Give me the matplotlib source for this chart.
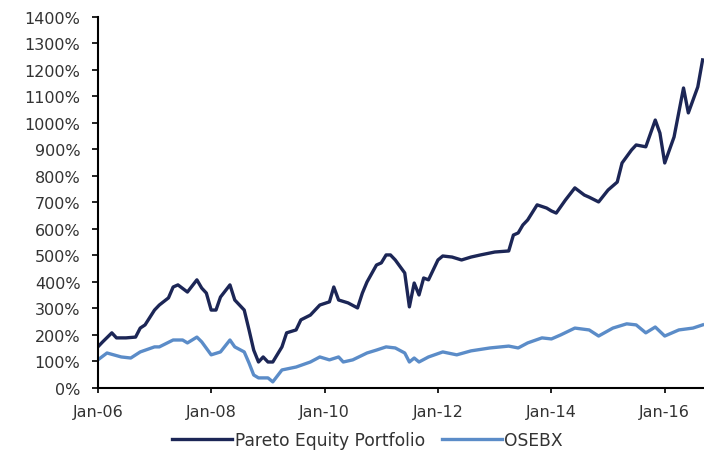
import pandas as pd
import matplotlib.pyplot as plt
import matplotlib.dates as mdates
from matplotlib.ticker import FuncFormatter, MultipleLocator

# values (cumulative return, %)
pareto_dates = ["2006-01", "2006-02", "2006-04", "2006-05", "2006-07", "2006-09", "2006-10",
                "2006-11", "2007-01", "2007-02", "2007-04", "2007-05", "2007-06", "2007-08",
                "2007-10", "2007-11", "2007-12", "2008-01", "2008-02", "2008-03", "2008-05",
                "2008-06", "2008-08", "2008-09", "2008-10", "2008-11", "2008-12", "2009-01",
                "2009-02", "2009-04", "2009-05", "2009-07", "2009-08", "2009-10", "2009-12",
                "2010-02", "2010-03", "2010-04", "2010-06", "2010-08", "2010-09", "2010-10",
                "2010-12", "2011-01", "2011-02", "2011-03", "2011-04", "2011-06", "2011-07",
                "2011-08", "2011-09", "2011-10", "2011-11", "2012-01", "2012-02", "2012-04",
                "2012-06", "2012-08", "2012-10", "2013-01", "2013-04", "2013-05", "2013-06",
                "2013-07", "2013-08", "2013-10", "2013-12", "2014-01", "2014-02", "2014-04",
                "2014-06", "2014-08", "2014-09", "2014-11", "2015-01", "2015-03", "2015-04",
                "2015-06", "2015-07", "2015-09", "2015-11", "2015-12", "2016-01", "2016-03",
                "2016-05", "2016-06", "2016-08", "2016-09"]
pareto_vals = [155, 174, 208, 189, 189, 192, 226,
               238, 294, 313, 340, 381, 389, 362,
               408, 377, 358, 294, 294, 343, 389,
               332, 294, 219, 143, 98, 117, 98,
               98, 155, 208, 219, 257, 275, 313,
               325, 381, 332, 321, 302, 358, 400,
               464, 472, 502, 502, 483, 434, 306,
               396, 351, 415, 408, 483, 498, 494,
               483, 494, 502, 513, 517, 577, 585,
               615, 634, 691, 679, 668, 660, 709,
               755, 728, 720, 702, 747, 777, 849,
               898, 917, 910, 1011, 962, 849, 947,
               1132, 1038, 1136, 1238]

osebx_dates = ["2006-01", "2006-03", "2006-06", "2006-08", "2006-10", "2007-01", "2007-02",
               "2007-05", "2007-07", "2007-08", "2007-10", "2007-11", "2008-01", "2008-03",
               "2008-05", "2008-06", "2008-08", "2008-09", "2008-10", "2008-11", "2009-01",
               "2009-02", "2009-04", "2009-07", "2009-10", "2009-12", "2010-02", "2010-04",
               "2010-05", "2010-07", "2010-10", "2010-12", "2011-02", "2011-04", "2011-06",
               "2011-07", "2011-08", "2011-09", "2011-11", "2012-02", "2012-05", "2012-08",
               "2012-12", "2013-04", "2013-06", "2013-08", "2013-11", "2014-01", "2014-03",
               "2014-06", "2014-09", "2014-11", "2015-02", "2015-05", "2015-07", "2015-09",
               "2015-11", "2016-01", "2016-04", "2016-07", "2016-09"]
osebx_vals = [106, 132, 117, 113, 136, 155, 155,
              181, 181, 170, 192, 174, 125, 136,
              181, 155, 136, 94, 49, 38, 38,
              23, 68, 79, 98, 117, 106, 117,
              98, 106, 132, 143, 155, 151, 132,
              98, 113, 98, 117, 136, 125, 140,
              151, 158, 151, 170, 189, 185, 200,
              226, 219, 196, 226, 242, 238, 208,
              230, 196, 219, 226, 238]

pareto_x = pd.to_datetime(pareto_dates)
osebx_x = pd.to_datetime(osebx_dates)

plt.rcParams['font.family'] = ['DejaVu Sans']

fig = plt.figure(figsize=(7.04, 4.56), dpi=100)
ax = fig.add_axes([0.139, 0.147, 0.861, 0.8136])

ax.plot(pareto_x, pareto_vals, color="#1c2656", lw=2.4, label="Pareto Equity Portfolio")
ax.plot(osebx_x, osebx_vals, color="#5b8cc8", lw=2.4, label="OSEBX")

ax.set_ylim(0, 1400)
ax.yaxis.set_major_locator(MultipleLocator(100))
ax.yaxis.set_major_formatter(FuncFormatter(lambda v, p: f"{v:.0f}%"))
ax.set_xlim(pd.Timestamp("2006-01-01"), pd.Timestamp("2016-09-10"))
ax.xaxis.set_major_locator(mdates.YearLocator(2, month=1, day=1))
ax.xaxis.set_major_formatter(mdates.DateFormatter("%b-%y"))

for s in ["top", "right"]:
    ax.spines[s].set_visible(False)
for s in ["left", "bottom"]:
    ax.spines[s].set_linewidth(1.5)
ax.tick_params(axis="y", length=4.5, width=1.3, pad=8, labelsize=11.5, colors="#333333")
ax.tick_params(axis="x", length=3.5, width=1.3, pad=8, labelsize=11.5, colors="#333333")
ax.tick_params(color="#111111")

fig.legend(loc="center", bbox_to_anchor=(0.522, 0.033), ncol=2, frameon=False,
           fontsize=12.3, handlelength=3.5, handletextpad=0.17, columnspacing=1.0,
           labelcolor="#333333")

fig.savefig("out.png", dpi=100)
